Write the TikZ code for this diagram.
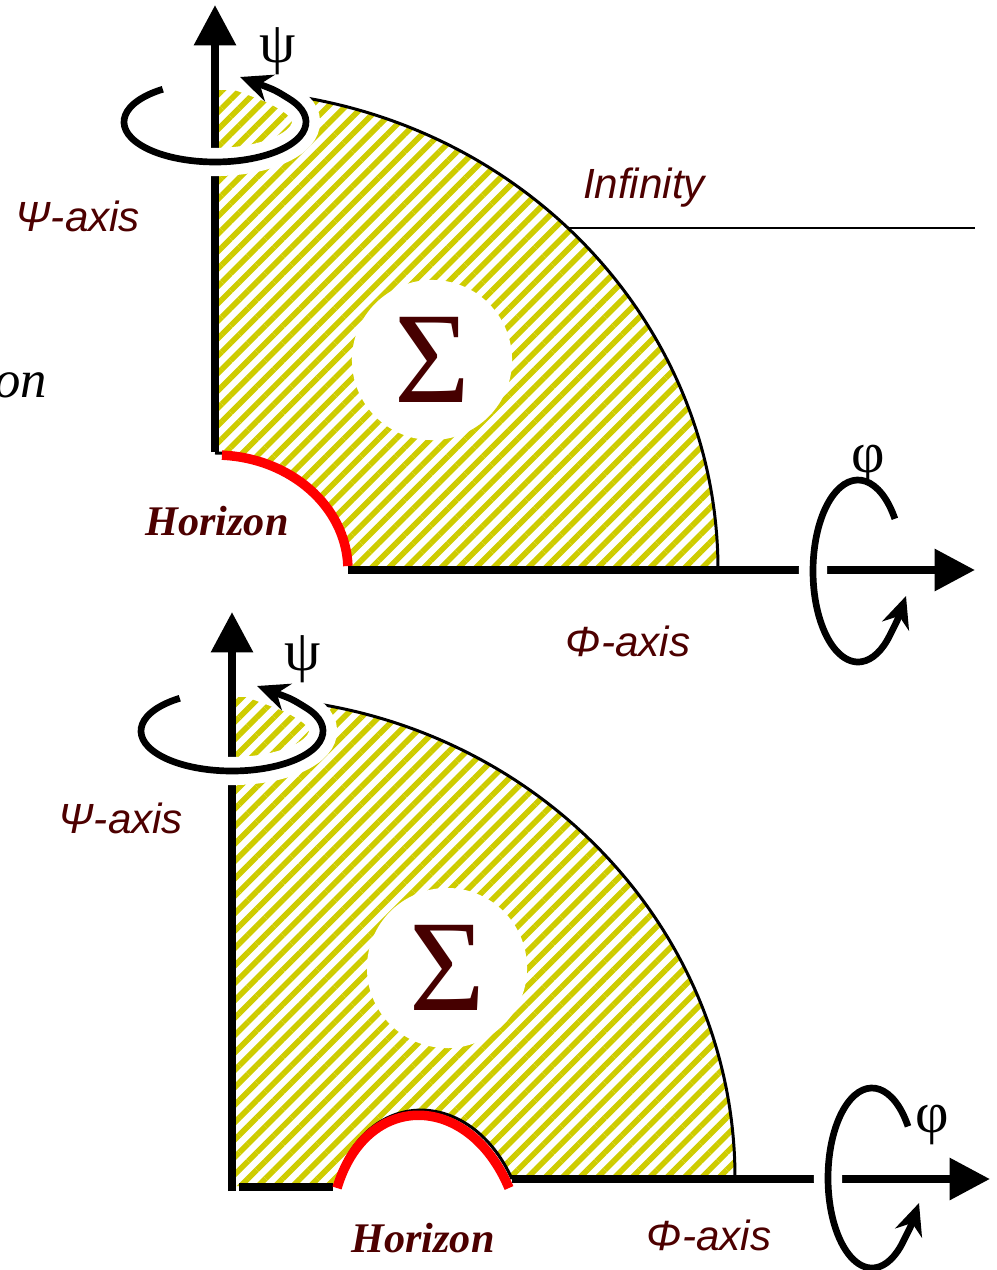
\documentclass[tikz,border=0pt]{standalone}
\usepackage{fontspec}
\setmainfont{Liberation Serif}
\setsansfont{Liberation Sans}
\usepackage{xcolor}
\usetikzlibrary{arrows.meta,patterns.meta}

\definecolor{labelred}{RGB}{77,0,0}
\definecolor{sigmared}{RGB}{70,0,0}
\definecolor{hatchyellow}{RGB}{206,204,0}

\begin{document}
\begin{tikzpicture}[
  x=0.01cm, y=-0.01cm,
  region/.style={pattern={Lines[angle=45,distance=3.5pt,line width=1.6pt]}, pattern color=hatchyellow},
  rim/.style={line width=0.85pt},
  axis/.style={line width=2.3pt},
  axisarrow/.style={line width=2.3pt, -{Triangle[length=11.5pt,width=11.5pt]}},
  spin/.style={line width=1.9pt, -{Stealth[length=9pt,width=8pt,inset=3pt]}, preaction={draw=white, line width=8pt, -}},
  horizon/.style={draw=red, line width=2.7pt},
  sigma/.style={circle, fill=white, minimum size=1.6cm, inner sep=0, text=sigmared, font=\fontsize{37}{40}\selectfont},
  axislabel/.style={inner sep=0, text=labelred, font=\sffamily\itshape\fontsize{12}{14}\selectfont},
  horizonlabel/.style={inner sep=0, text=labelred, font=\bfseries\itshape\fontsize{12}{14}\selectfont},
  greek/.style={inner sep=0, font=\fontsize{16.5}{18}\selectfont}
]
\useasboundingbox (0,0) rectangle (996,1270);

% upper picture
\path[region] (215,452) -- (215,90) arc[start angle=-90, end angle=0, x radius=503, y radius=480]
  -- (350,570) arc[start angle=0, end angle=-90, x radius=135, y radius=117] -- cycle;
\draw[rim] (215,570) ++(-80:503 and 480) arc[start angle=-80, end angle=0, x radius=503, y radius=480];
\draw[rim] (350,570) arc[start angle=0, end angle=-90, x radius=135, y radius=117];
\node[sigma] (sigmatop) at (432,360) {Σ};
\coordinate (inftystart) at (568,228);
\coordinate (inftyend) at (975,228);
\draw[line width=0.55pt] (inftystart) -- (inftyend);

\coordinate (psifoottop) at (215,452);
\coordinate (psitiptop) at (215,5);
\coordinate (phifoottop) at (348,570);
\coordinate (phitiptop) at (975,570);
\draw[axisarrow] (psifoottop) -- (psitiptop);
\draw[axisarrow] (phifoottop) -- (phitiptop);
\draw[horizon] (215,570) ++(-2:133 and 115) arc[start angle=-2, end angle=-87, x radius=133, y radius=115];

\coordinate (psispintop) at (215,122);
\coordinate (phispintop) at (858,571);
\draw[spin] (psispintop) ++(-125:91 and 40) arc[start angle=-125, end angle=-395, x radius=91, y radius=40]
  .. controls (275,90) .. (240,77);
\draw[spin] (phispintop) ++(-35:45 and 91) arc[start angle=-35, end angle=-315, x radius=45, y radius=91]
  .. controls (898,619) .. (906,596);

\node[axislabel] (psilabeltop) at (78,216) {Ψ-axis};
\node[inner sep=0, anchor=east, font=\itshape\fontsize{15}{17}\selectfont] (horizoncut) at (48,385) {on};
\node[axislabel] (infinitylabel) at (644,188) {Infinity};
\node[horizonlabel] (horizonlabeltop) at (217,521) {Horizon};
\node[axislabel] (philabeltop) at (628,641) {Φ-axis};
\node[greek] (psisymtop) at (278,51) {ψ};
\node[greek] (phisymtop) at (868,465) {φ};

% lower picture
\path[region] (233,1186) -- (233,697) arc[start angle=-90, end angle=0, x radius=502, y radius=481]
  -- (512,1179) .. controls (470,1086) and (365,1086) .. (335,1186) -- cycle;
\draw[rim] (233,1178) ++(-80:502 and 481) arc[start angle=-80, end angle=0, x radius=502, y radius=481];
\draw[rim] (512,1179) .. controls (470,1086) and (365,1086) .. (335,1186);
\node[sigma] (sigmabot) at (447,968) {Σ};

\coordinate (psifootbot) at (232,1191);
\coordinate (psitipbot) at (232,612);
\coordinate (floorstart) at (239,1187);
\coordinate (floorend) at (333,1187);
\coordinate (phifootbot) at (512,1179);
\coordinate (phitipbot) at (990,1179);
\draw[axisarrow] (psifootbot) -- (psitipbot);
\draw[axis] (floorstart) -- (floorend);
\draw[axisarrow] (phifootbot) -- (phitipbot);
\draw[horizon] (337,1188) .. controls (366,1091) and (468,1091) .. (509,1188);

\coordinate (psispinbot) at (232,731);
\coordinate (phispinbot) at (872,1178);
\draw[spin] (psispinbot) ++(-125:91 and 40) arc[start angle=-125, end angle=-395, x radius=91, y radius=40]
  .. controls (292,699) .. (257,686);
\draw[spin] (phispinbot) ++(-35:44 and 90) arc[start angle=-35, end angle=-315, x radius=44, y radius=90]
  .. controls (911,1226) .. (919,1203);

\node[axislabel] (psilabelbot) at (121,818) {Ψ-axis};
\node[horizonlabel] (horizonlabelbot) at (423,1238) {Horizon};
\node[axislabel] (philabelbot) at (709,1235) {Φ-axis};
\node[greek] (psisymbot) at (303,659) {ψ};
\node[greek] (phisymbot) at (932,1125) {φ};
\end{tikzpicture}
\end{document}
